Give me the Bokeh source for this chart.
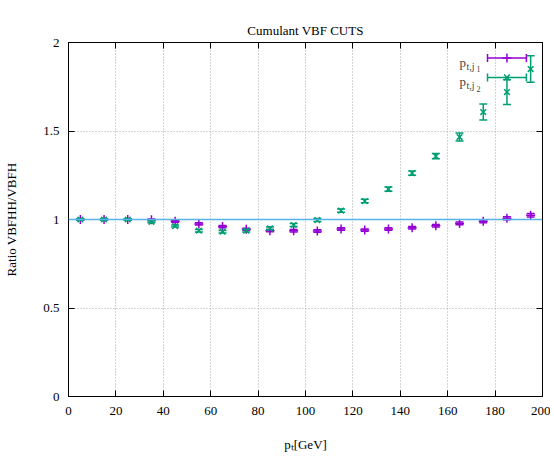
from bokeh.plotting import figure
from bokeh.models import LinearAxis, FixedTicker, CustomJSTickFormatter, Label, Range1d, Span
from bokeh.embed import file_html
from bokeh.resources import INLINE

# ---- data ----
pt = [5, 15, 25, 35, 45, 55, 65, 75, 85, 95, 105, 115, 125, 135, 145, 155, 165, 175, 185, 195]
ratio_j1 = [1.0, 1.0, 1.0, 0.998, 0.99, 0.975, 0.96, 0.945, 0.937, 0.937,
            0.935, 0.946, 0.94, 0.946, 0.954, 0.965, 0.978, 0.99, 1.007, 1.024]
err_j1 = [0.004, 0.004, 0.004, 0.005, 0.006, 0.006, 0.006, 0.006, 0.006, 0.007,
          0.007, 0.007, 0.007, 0.007, 0.007, 0.007, 0.008, 0.008, 0.009, 0.01]
ratio_j2 = [1.0, 1.0, 1.0, 0.987, 0.963, 0.937, 0.931, 0.937, 0.95, 0.969,
            0.997, 1.05, 1.104, 1.172, 1.262, 1.358, 1.466, 1.607, 1.72, 1.85]
err_j2 = [0.004, 0.004, 0.004, 0.006, 0.006, 0.007, 0.007, 0.007, 0.007, 0.008,
          0.008, 0.009, 0.01, 0.012, 0.012, 0.015, 0.022, 0.045, 0.07, 0.075]
x_ticks = [0, 20, 40, 60, 80, 100, 120, 140, 160, 180, 200]
y_ticks = [0, 0.5, 1, 1.5, 2]
reference_level = 1.0

PURPLE = "#9400d3"
GREEN = "#009e73"
BLUE = "#56b4e9"
FONT = "Liberation Serif"

p = figure(width=550, height=454, output_backend="svg", toolbar_location=None,
           x_range=Range1d(0, 200), y_range=Range1d(0, 2),
           min_border_left=68, min_border_right=8, min_border_top=42, min_border_bottom=57,
           title="Cumulant VBF CUTS")
p.title.align = "center"
p.title.text_font = FONT
p.title.text_font_size = "13px"
p.title.text_font_style = "normal"
p.title.text_color = "black"
p.title.standoff = 10
p.background_fill_color = "white"
p.border_fill_color = "white"
p.outline_line_color = "black"
p.outline_line_width = 1

fmt = CustomJSTickFormatter(code="return tick.toString();")
empty = CustomJSTickFormatter(code="return '';")
blank = CustomJSTickFormatter(code="return ' ';")

for ax in p.xaxis:
    ax.ticker = FixedTicker(ticks=x_ticks)
for ax in p.yaxis:
    ax.ticker = FixedTicker(ticks=y_ticks)
for ax in list(p.xaxis) + list(p.yaxis):
    ax.formatter = fmt
    ax.major_tick_in = 6
    ax.major_tick_out = 0
    ax.minor_tick_in = 0
    ax.minor_tick_out = 0
    ax.axis_line_color = "black"
    ax.major_tick_line_color = "black"
    ax.major_label_text_font = FONT
    ax.major_label_text_font_size = "13px"
    ax.major_label_text_color = "black"
    ax.axis_label_text_font = FONT
    ax.axis_label_text_font_size = "13px"
    ax.axis_label_text_font_style = "normal"
    ax.axis_label_text_color = "black"
p.xaxis.major_label_standoff = 10
p.yaxis.major_label_standoff = 9
p.yaxis.axis_label = "Ratio VBFHH/VBFH"
p.yaxis.axis_label_standoff = 21
p.xaxis.axis_label = "p\u209c[GeV]"
p.xaxis.axis_label_standoff = 19

top = LinearAxis(ticker=FixedTicker(ticks=x_ticks), formatter=blank,
                 major_tick_in=6, major_tick_out=0, minor_tick_in=0, minor_tick_out=0,
                 major_label_standoff=2, axis_label_standoff=0,
                 major_label_text_font=FONT, major_label_text_font_size="13px",
                 major_label_text_alpha=0)
right = LinearAxis(ticker=FixedTicker(ticks=y_ticks), formatter=empty,
                   major_tick_in=6, major_tick_out=0, minor_tick_in=0, minor_tick_out=0,
                   major_label_standoff=0, axis_label_standoff=0,
                   major_label_text_font_size="0px")
p.add_layout(top, "above")
p.add_layout(right, "right")

for g in (p.xgrid[0], p.ygrid[0]):
    g.grid_line_color = "#a8a8a8"
    g.grid_line_dash = "1 2"
    g.grid_line_width = 1
p.xgrid.ticker = FixedTicker(ticks=x_ticks)
p.ygrid.ticker = FixedTicker(ticks=y_ticks)

# reference line
p.add_layout(Span(location=reference_level, dimension="width", line_color=BLUE, line_width=1.5))

# error bars and points
def series(y, e, color, marker, size):
    lo = [a - b for a, b in zip(y, e)]
    hi = [a + b for a, b in zip(y, e)]
    p.segment(x0=pt, y0=lo, x1=pt, y1=hi, line_color=color, line_width=1.5)
    p.scatter(x=pt, y=lo, marker="dash", size=8, line_color=color, line_width=1.5)
    p.scatter(x=pt, y=hi, marker="dash", size=8, line_color=color, line_width=1.5)
    p.scatter(x=pt, y=y, marker=marker, size=size, line_color=color, line_width=1.5)

series(ratio_j1, err_j1, PURPLE, "cross", 9)
series(ratio_j2, err_j2, GREEN, "x", 8)

# legend (manual, gnuplot-style)
def legend_entry(ypix_off, color, marker, idx):
    xl0, xl1 = 176.8, 193.2
    xm = (xl0 + xl1) / 2
    yv = 2 - ypix_off / 177.5
    p.segment(x0=[xl0], y0=[yv], x1=[xl1], y1=[yv], line_color=color, line_width=1.5)
    p.scatter(x=[xl0, xl1], y=[yv, yv], marker="dash", angle=1.5708, size=8, line_color=color, line_width=1.5)
    p.scatter(x=[xm], y=[yv], marker=marker, size=8 if marker == "x" else 9, line_color=color, line_width=1.5)
    p.add_layout(Label(x=200, y=2, x_offset=-83, y_offset=-ypix_off - 4, text="p",
                       text_font=FONT, text_font_size="13px", text_baseline="alphabetic"))
    p.add_layout(Label(x=200, y=2, x_offset=-76, y_offset=-ypix_off - 8, text="t,j",
                       text_font=FONT, text_font_size="10px", text_baseline="alphabetic"))
    p.add_layout(Label(x=200, y=2, x_offset=-66, y_offset=-ypix_off - 11, text=str(idx),
                       text_font=FONT, text_font_size="8px", text_baseline="alphabetic"))

legend_entry(15.5, PURPLE, "cross", 1)
legend_entry(35, GREEN, "x", 2)

open("out.html", "w").write(file_html(p, INLINE))
